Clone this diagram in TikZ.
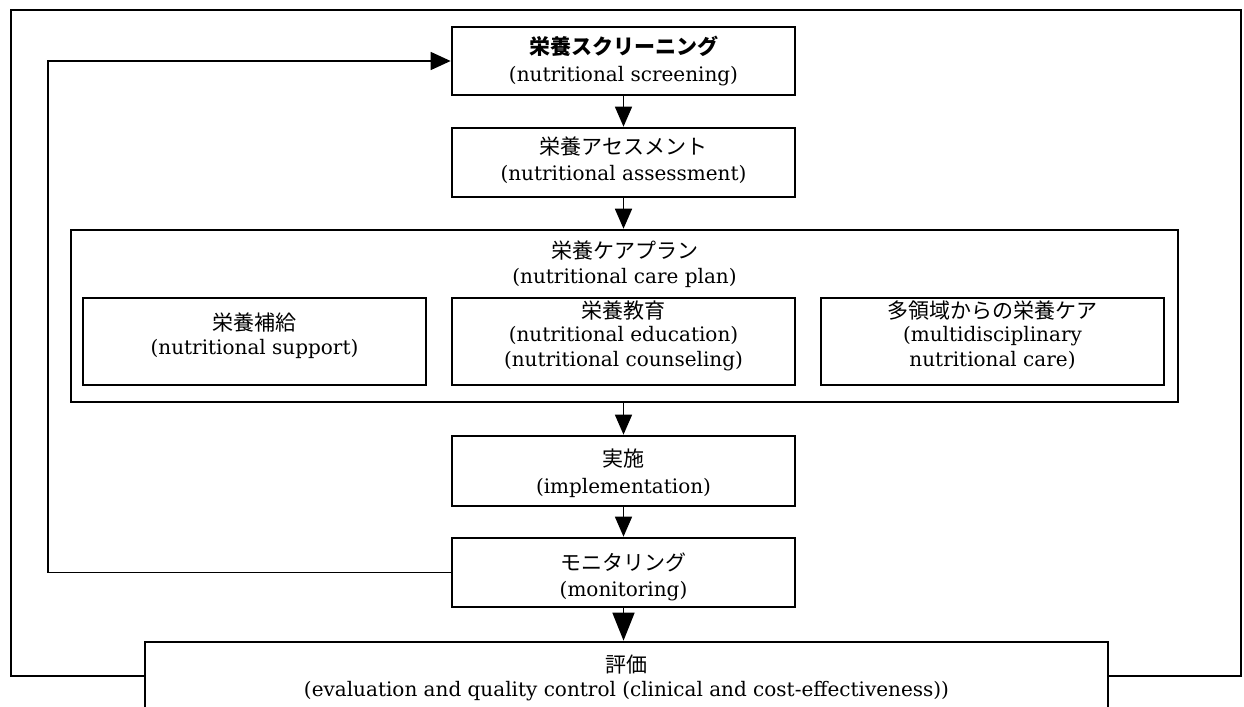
\documentclass[tikz,border=0pt]{standalone}
\usepackage{fontspec}
\setmainfont{DejaVu Serif}
\newfontfamily\jp{Noto Sans CJK JP}
\usetikzlibrary{arrows.meta}
\begin{document}
\begin{tikzpicture}[x=1bp,y=-1bp,
  mainbox/.style={draw,line width=2.7bp,inner sep=0pt,minimum width=343bp,minimum height=#1},
  mainbox/.default=68bp,
  planbox/.style={draw,line width=2.5bp,inner sep=0pt,minimum width=1107bp,minimum height=172bp},
  subbox/.style={draw,line width=2.4bp,inner sep=0pt,minimum width=343bp,minimum height=87bp},
  evalbox/.style={draw,line width=2.7bp,inner sep=0pt,minimum width=963bp,minimum height=68bp},
  jt/.style={anchor=base,inner sep=0pt,font=\jp\fontsize{21bp}{25bp}\selectfont},
  et/.style={anchor=base,inner sep=0pt,font=\fontsize{20bp}{24bp}\selectfont},
  arr/.style={line width=1.6bp,-{Triangle[length=20bp,width=17bp]}},
  bigarr/.style={line width=1.6bp,-{Triangle[length=28bp,width=22bp]}},
  innerloop/.style={line width=1.5bp,-{Triangle[length=20bp,width=18bp]}},
  outerloop/.style={line width=2.7bp}]
\fill[white] (0,0) rectangle (1244,707);
\useasboundingbox (0,0) rectangle (1244,707);

% boxes
\node[mainbox] (scr) at (623.5,61) {};
\node[mainbox=69bp] (ass) at (623.5,162.5) {};
\node[planbox] (plan) at (624.5,316) {};
\node[subbox] (s1) at (254.5,341.5) {};
\node[subbox] (s2) at (623.5,341.5) {};
\node[subbox] (s3) at (992.5,341.5) {};
\node[mainbox=70bp] (imp) at (623.5,471) {};
\node[mainbox=69bp] (mon) at (623.5,572.5) {};
\node[evalbox] (eval) at (626.5,676) {};

% texts
\node[jt] (scrj) at (623.5,55) {\bfseries 栄養スクリーニング};
\node[et] (scre) at (623.5,82) {(nutritional screening)};
\node[jt] (assj) at (623.5,155) {栄養アセスメント};
\node[et] (asse) at (623.5,181) {(nutritional assessment)};
\node[jt] (planj) at (624.5,258) {栄養ケアプラン};
\node[et] (plane) at (624.5,283) {(nutritional care plan)};
\node[jt] (s1j) at (254.5,330) {栄養補給};
\node[et] (s1e) at (254.5,354) {(nutritional support)};
\node[jt] (s2j) at (623.5,318) {栄養教育};
\node[et] (s2e) at (623.5,341) {(nutritional education)};
\node[et] (s2f) at (623.5,366) {(nutritional counseling)};
\node[jt] (s3j) at (992.5,318) {多領域からの栄養ケア};
\node[et] (s3e) at (992.5,341) {(multidisciplinary};
\node[et] (s3f) at (992.5,366) {nutritional care)};
\node[jt] (impj) at (623.5,466) {実施};
\node[et] (impe) at (623.5,493) {(implementation)};
\node[jt] (monj) at (623.5,570) {モニタリング};
\node[et] (mone) at (623.5,596) {(monitoring)};
\node[jt] (evalj) at (626.5,672) {評価};
\node[et] (evale) at (626.5,696) {(evaluation and quality control (clinical and cost-effectiveness))};

% loop corners
\coordinate (ilt) at (48,61);
\coordinate (olt) at (11,10);
\coordinate (orb) at (1241,676);

% connectors
\draw[arr] (scr.south) -- (ass.north);
\draw[arr] (ass.south) -- (ass.south |- plan.north);
\draw[arr] (imp.north |- plan.south) -- (imp.north);
\draw[arr] (imp.south) -- (mon.north);
\draw[bigarr] (mon.south) -- (mon.south |- eval.north);
\draw[innerloop] (mon.west) -| (ilt) -- (scr.west);
\draw[outerloop] (eval.west) -| (olt) -| (orb) -- (eval.east);
\end{tikzpicture}
\end{document}
